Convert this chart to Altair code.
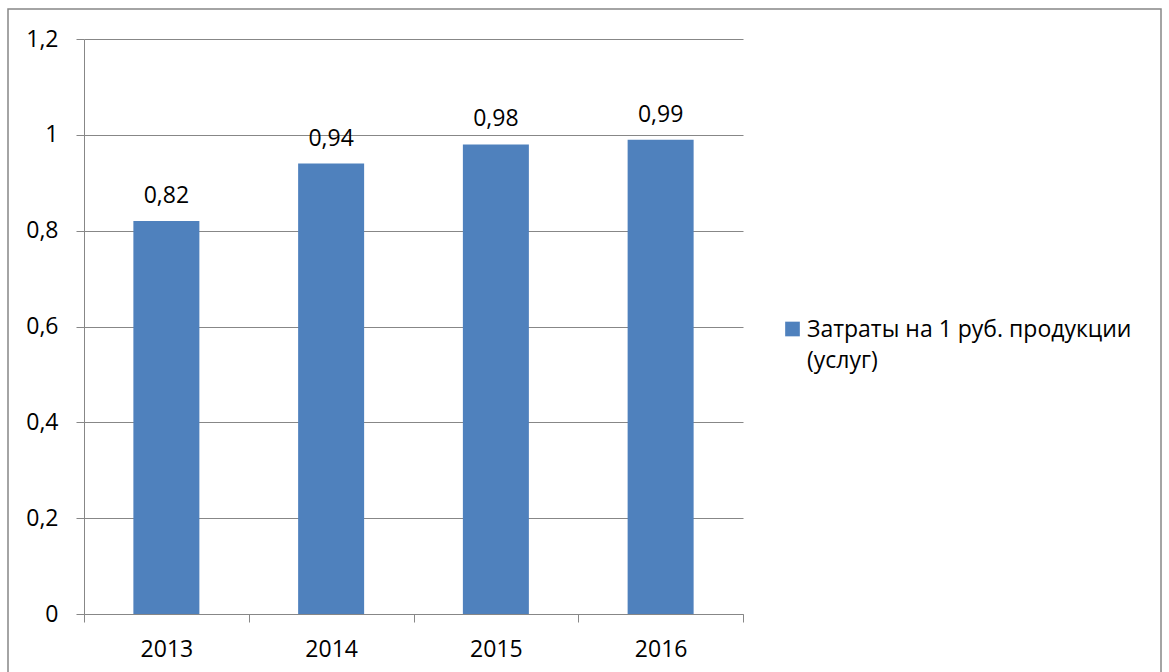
import altair as alt
import pandas as pd

years = ["2013", "2014", "2015", "2016"]
values = [0.82, 0.94, 0.98, 0.99]
series_name = "Затраты на 1 руб. продукции (услуг)"
legend_lines = "Затраты на 1 руб. продукции\n(услуг)"
y_ticks = [0, 0.2, 0.4, 0.6, 0.8, 1.0, 1.2]

FONT = "Open Sans"
FS = 23
GRAY = "#878787"
BAR = "#4F81BD"

df = pd.DataFrame({"year": years, "value": values, "series": [series_name] * len(years)})
leg_df = pd.DataFrame({"series": [series_name], "text": [legend_lines]})

color = alt.Color("series:N", scale=alt.Scale(domain=[series_name], range=[BAR]), legend=None)

x_enc = alt.X(
    "year:N",
    sort=years,
    scale=alt.Scale(paddingInner=0, paddingOuter=0),
    axis=alt.Axis(
        title=None, labelAngle=0, domainColor=GRAY, domainWidth=1, tickColor=GRAY,
        tickSize=8, tickBand="extent", labelPadding=16, labelFont=FONT, labelFontSize=FS,
        labelColor="black", labelBaseline="top",
    ),
)
y_enc = alt.Y(
    "value:Q",
    scale=alt.Scale(domain=[0, 1.2], nice=False, zero=True),
    axis=alt.Axis(
        title=None, values=y_ticks, grid=True, gridColor=GRAY, gridWidth=1,
        domainColor=GRAY, tickColor=GRAY, tickSize=8, labelPadding=18,
        labelFont=FONT, labelFontSize=FS, labelColor="black",
        labelExpr="replace(format(datum.value, ''), '.', ',')",
    ),
)

bars = alt.Chart(df).mark_bar(size=66).encode(x=x_enc, y=y_enc, color=color)

labels = alt.Chart(df).transform_calculate(
    lab="replace(format(datum.value, '.2f'), '.', ',')"
).mark_text(
    font=FONT, fontSize=FS, color="black", baseline="alphabetic", dy=-18
).encode(x=alt.X("year:N", sort=years), y="value:Q", text="lab:N")

leg_sym = alt.Chart(leg_df).mark_square(size=215, opacity=1).encode(
    x=alt.value(708.5), y=alt.value(290), color=color
)
leg_txt = alt.Chart(leg_df).mark_text(
    font=FONT, fontSize=FS, color="black", align="left", baseline="alphabetic",
    lineBreak="\n", lineHeight=31,
).encode(x=alt.value(723), y=alt.value(298), text="text:N")

border = alt.Chart(leg_df).mark_rect(
    fill=None, stroke=GRAY, strokeWidth=1.5
).encode(x=alt.value(-76), x2=alt.value(1077), y=alt.value(-30), y2=alt.value(650))

chart = alt.layer(bars, labels, leg_sym, leg_txt, border).properties(
    width=659, height=575,
    autosize=alt.AutoSizeParams(type="none"),
    padding={"left": 84, "top": 39, "right": 426, "bottom": 58},
    background="white",
).configure_view(stroke=None)

chart.save("out.html", embed_options={"renderer": "svg", "actions": False})
